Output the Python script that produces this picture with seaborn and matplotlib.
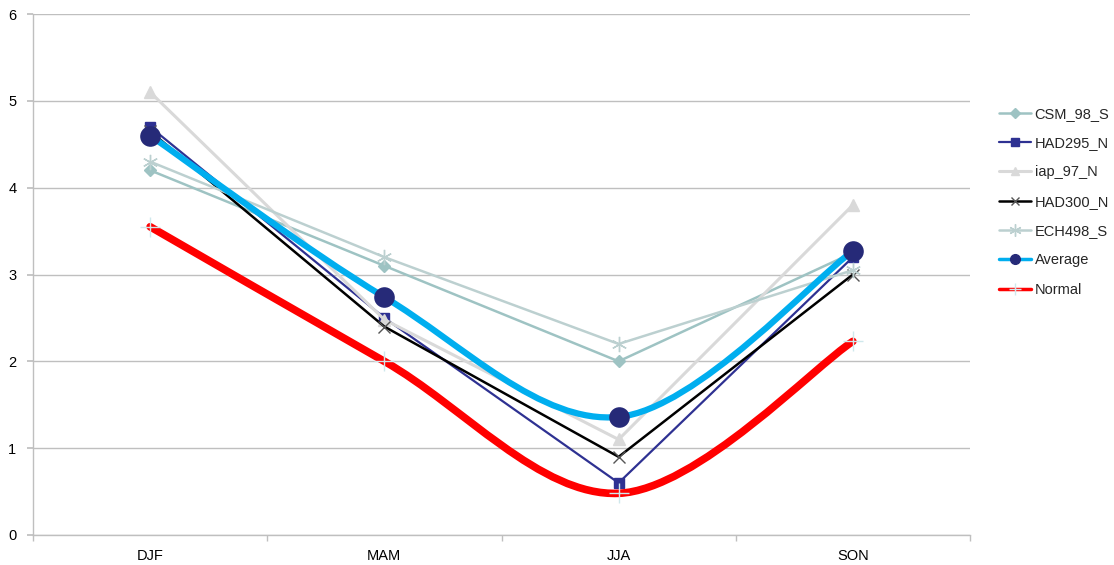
import numpy as np
import pandas as pd
import matplotlib
matplotlib.use("Agg")
import matplotlib.pyplot as plt
from matplotlib.path import Path
from matplotlib.patches import PathPatch
from matplotlib.lines import Line2D
import seaborn as sns

seasons = ["DJF", "MAM", "JJA", "SON"]
csm_98_s = [4.2, 3.1, 2.0, 3.25]
had295_n = [4.7, 2.5, 0.6, 3.2]
iap_97_n = [5.1, 2.48, 1.1, 3.8]
had300_n = [4.65, 2.4, 0.9, 3.0]
ech498_s = [4.3, 3.2, 2.2, 3.05]
average = [4.6, 2.74, 1.36, 3.27]
normal = [3.55, 2.0, 0.48, 2.23]
y_ticks = [0, 1, 2, 3, 4, 5, 6]

sns.set_theme(style="white")
plt.rcParams['font.family'] = ['Liberation Sans', 'DejaVu Sans']

fig = plt.figure(figsize=(11.14, 5.65), dpi=100)
ax = fig.add_axes([33/1114, 1-535/565, (970-33)/1114, (535-14)/565])

xpos = np.arange(len(seasons))

def smooth_path(xs, ys):
    pts = np.column_stack([xs, ys]).astype(float)
    n = len(pts)
    verts = [pts[0]]
    codes = [Path.MOVETO]
    for i in range(n - 1):
        p0 = pts[i - 1] if i > 0 else pts[i]
        p1 = pts[i]
        p2 = pts[i + 1]
        p3 = pts[i + 2] if i + 2 < n else pts[i + 1]
        c1 = p1 + (p2 - p0) / 6.0
        c2 = p2 - (p3 - p1) / 6.0
        verts += [c1, c2, p2]
        codes += [Path.CURVE4] * 3
    return Path(verts, codes)

straight = [
    ("CSM_98_S", csm_98_s, "#9EC3C3", "D", 6, "#9EC3C3", 1.8),
    ("HAD295_N", had295_n, "#2E3192", "s", 7, "#2E3192", 1.6),
    ("iap_97_N", iap_97_n, "#D9D9D9", "^", 8, "#D9D9D9", 2.2),
    ("HAD300_N", had300_n, "#000000", "x", 8, "#555555", 1.8),
    ("ECH498_S", ech498_s, "#BCD0D0", (6, 2, 0), 11, "#BCD0D0", 1.8),
]

handles = []
for name, vals, col, mk, ms, mcol, lw in straight:
    sns.lineplot(x=xpos, y=vals, ax=ax, color=col, linewidth=lw, marker=mk,
                 markersize=ms, markerfacecolor=mcol, markeredgecolor=mcol,
                 markeredgewidth=1.0, legend=False)
    handles.append(Line2D([], [], color=col, linewidth=lw, marker=mk, markersize=ms * 0.8,
                          markerfacecolor=mcol, markeredgecolor=mcol, label=name))

# Average (smoothed)
ax.add_patch(PathPatch(smooth_path(xpos, average), facecolor="none",
                       edgecolor="#00AEEF", linewidth=4.5, capstyle="round", zorder=4))
sns.scatterplot(x=xpos, y=average, ax=ax, color="#262A78", s=220, marker="o",
                edgecolor="#262A78", linewidth=0, zorder=5, legend=False)
handles.append(Line2D([], [], color="#00AEEF", linewidth=2.5, marker="o", markersize=7,
                      markerfacecolor="#262A78", markeredgecolor="#262A78", label="Average"))

# Normal (smoothed)
ax.add_patch(PathPatch(smooth_path(xpos, normal), facecolor="none",
                       edgecolor="#FF0000", linewidth=5.5, capstyle="round", zorder=6))
sns.scatterplot(x=xpos, y=normal, ax=ax, color="#CFE8EC", s=220, marker="+",
                linewidth=1.0, zorder=7, legend=False)
handles.append(Line2D([], [], color="#FF0000", linewidth=2.5, marker="+", markersize=9,
                      markeredgecolor="#CFE8EC", label="Normal"))

ax.set_xlim(-0.5, len(seasons) - 0.5)
ax.set_ylim(0, 6)
ax.set_yticks(y_ticks)
ax.set_yticklabels([str(t) for t in y_ticks])
ax.set_xticks(xpos)
ax.set_xticklabels(seasons)
ax.set_xticks(np.arange(-0.5, len(seasons), 1.0), minor=True)
ax.grid(axis="y", color="#BFBFBF", linewidth=1.0)
ax.grid(axis="x", visible=False)
for side in ["top", "right"]:
    ax.spines[side].set_visible(False)
for side in ["left", "bottom"]:
    ax.spines[side].set_color("#BFBFBF")
    ax.spines[side].set_linewidth(1.0)
ax.tick_params(axis="x", which="major", length=0, pad=10, labelsize=10.5, colors="#000000")
ax.tick_params(axis="x", which="minor", length=4, color="#BFBFBF", bottom=True)
ax.tick_params(axis="y", length=4, color="#BFBFBF", left=True, pad=8, labelsize=10.5, colors="#000000")
ax.set_xlabel("")
ax.set_ylabel("")

leg = fig.legend(handles=handles, loc="upper left", bbox_to_anchor=(993/1114, 1-101/565),
                 frameon=False, fontsize=10.5, handlelength=2.2, handletextpad=0.25,
                 labelspacing=1.05, borderaxespad=0)

fig.savefig("out.png", dpi=100, facecolor="white")
